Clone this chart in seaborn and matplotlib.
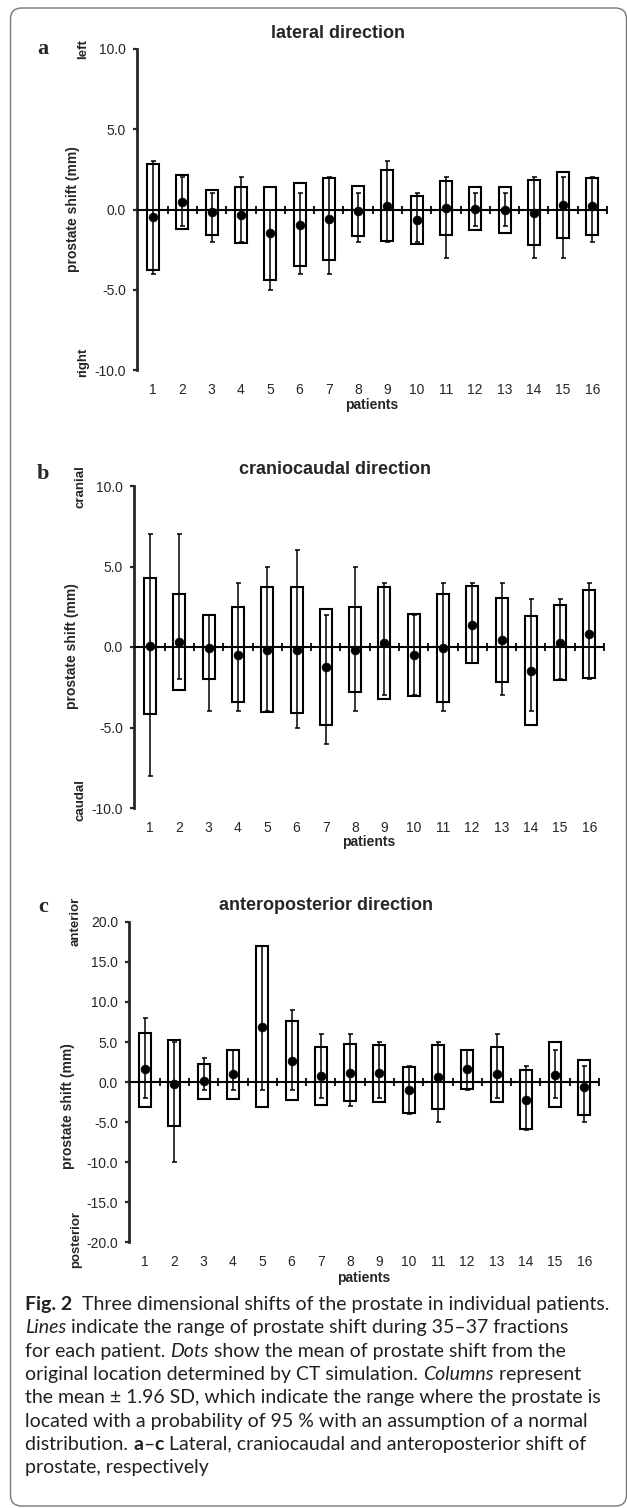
import matplotlib
matplotlib.use("Agg")
import matplotlib.pyplot as plt
from matplotlib.patches import FancyBboxPatch
from matplotlib.transforms import IdentityTransform
import seaborn as sns
import pandas as pd

patients = list(range(1, 17))

# lateral (a)
lat_mean = [-0.48, 0.48, -0.17, -0.33, -1.48, -0.94, -0.6, -0.1, 0.2, -0.63, 0.08, 0.04, -0.04, -0.19, 0.25, 0.2]
lat_low = [-3.8, -1.19, -1.56, -2.1, -4.4, -3.5, -3.15, -1.65, -1.98, -2.15, -1.6, -1.3, -1.48, -2.19, -1.79, -1.56]
lat_high = [2.85, 2.17, 1.23, 1.38, 1.42, 1.63, 1.94, 1.46, 2.46, 0.85, 1.75, 1.42, 1.42, 1.85, 2.31, 1.94]
lat_min = [-4, -1, -2, -2, -5, -4, -4, -2, -2, -2, -3, -1, -1, -3, -3, -2]
lat_max = [3, 2, 1, 2, 0, 1, 2, 1, 3, 1, 2, 1, 1, 2, 2, 2]

# craniocaudal (b)
cc_mean = [0.06, 0.29, -0.04, -0.5, -0.17, -0.19, -1.24, -0.19, 0.23, -0.52, -0.06, 1.39, 0.41, -1.47, 0.27, 0.81]
cc_low = [-4.14, -2.7, -2.0, -3.42, -4.02, -4.08, -4.87, -2.82, -3.23, -3.06, -3.42, -0.97, -2.15, -4.87, -2.03, -1.95]
cc_high = [4.3, 3.3, 1.97, 2.48, 3.7, 3.73, 2.36, 2.5, 3.7, 2.03, 3.3, 3.79, 3.02, 1.9, 2.6, 3.52]
cc_min = [-8, -2, -4, -4, -4, -5, -6, -4, -3, -3, -4, -1, -3, -4, -2, -2]
cc_max = [7, 7, 2, 4, 5, 6, 2, 5, 4, 2, 4, 4, 4, 3, 3, 4]

# anteroposterior (c)
ap_mean = [1.58, -0.2, 0.12, 0.96, 6.86, 2.62, 0.79, 1.12, 1.08, -0.96, 0.58, 1.62, 1.0, -2.2, 0.91, -0.66]
ap_low = [-3.08, -5.53, -2.12, -2.12, -3.12, -2.25, -2.83, -2.41, -2.5, -3.83, -3.4, -0.83, -2.5, -5.82, -3.12, -4.12]
ap_high = [6.15, 5.24, 2.25, 3.95, 17.0, 7.57, 4.32, 4.7, 4.6, 1.87, 4.6, 3.99, 4.4, 1.5, 4.99, 2.74]
ap_min = [-2, -10, -1, -1, -1, -1, -2, -3, -2, -4, -5, -1, -2, -6, -2, -5]
ap_max = [8, 5, 3, 4, 17, 9, 6, 6, 5, 2, 5, 4, 6, 2, 4, 2]

titles = ["lateral direction", "craniocaudal direction", "anteroposterior direction"]
letters = ["a", "b", "c"]
top_words = ["left", "cranial", "anterior"]
bottom_words = ["right", "caudal", "posterior"]
y_limits = [10, 10, 20]

caption = [
    [("Fig. 2", "bold"), ("  Three dimensional shifts of the prostate in individual patients.", "normal")],
    [("Lines", "italic"), (" indicate the range of prostate shift during 35\u201337 fractions", "normal")],
    [("for each patient. ", "normal"), ("Dots", "italic"), (" show the mean of prostate shift from the", "normal")],
    [("original location determined by CT simulation. ", "normal"), ("Columns", "italic"), (" represent", "normal")],
    [("the mean \u00b1 1.96 SD, which indicate the range where the prostate is", "normal")],
    [("located with a probability of 95 % with an assumption of a normal", "normal")],
    [("distribution. ", "normal"), ("a", "bold"), ("\u2013", "normal"), ("c", "bold"),
     (" Lateral, craniocaudal and anteroposterior shift of", "normal")],
    [("prostate, respectively", "normal")],
]

sns.set_style("ticks")
plt.rcParams["font.family"] = ["Liberation Sans", "DejaVu Sans"]

W, H = 627, 1508
fig = plt.figure(figsize=(W / 100, H / 100), dpi=100)
fig.patch.set_facecolor("white")

frame = FancyBboxPatch((10.5, 2), 616, 1498, boxstyle="round,pad=0,rounding_size=11",
                       transform=IdentityTransform(), facecolor="none",
                       edgecolor="#777777", linewidth=1.0)
fig.add_artist(frame)

# layout per panel in pixels: axes left, top, bottom, and text anchors
layout = [
    dict(left=137, top=49, bottom=370, title=(338, 33), letter=(43, 49), ylab=(73, 209),
         topw=(83, 49), botw=(83, 362), xlab_y=405),
    dict(left=134, top=486, bottom=808, title=(335, 470), letter=(43, 474), ylab=(72, 646),
         topw=(80, 487), botw=(80, 800), xlab_y=842),
    dict(left=129, top=922, bottom=1242, title=(326, 905), letter=(43, 907), ylab=(68, 1106),
         topw=(76, 921), botw=(76, 1240), xlab_y=1278),
]
series = [
    (lat_mean, lat_low, lat_high, lat_min, lat_max),
    (cc_mean, cc_low, cc_high, cc_min, cc_max),
    (ap_mean, ap_low, ap_high, ap_min, ap_max),
]
axw = 470


def fx(px):
    return px / W


def fy(py):
    return 1 - py / H


for i, (lay, (mean, low, high, vmin, vmax)) in enumerate(zip(layout, series)):
    ax = fig.add_axes([fx(lay["left"]), fy(lay["bottom"]), axw / W, (lay["bottom"] - lay["top"]) / H])
    df = pd.DataFrame({"patient": patients, "mean": mean, "low": low, "high": high,
                       "min": vmin, "max": vmax})

    ax.bar(df["patient"], df["high"] - df["low"], bottom=df["low"], width=0.41,
           color="white", edgecolor="black", linewidth=1.5, zorder=2)
    ax.errorbar(df["patient"], df["min"], yerr=[[0] * len(df), df["max"] - df["min"]],
                fmt="none", ecolor="black", elinewidth=1.1, capsize=1.8, capthick=1.1, zorder=3)
    ax.axhline(0, color="black", lw=1.5, zorder=4)
    ax.plot([p + 0.5 for p in patients], [0] * len(patients), ls="none", marker="|",
            ms=6, mew=1.3, color="black", zorder=4)
    sns.scatterplot(data=df, x="patient", y="mean", color="black", s=40, linewidth=0.5,
                    edgecolor="black", zorder=5, ax=ax, legend=False)

    lim = y_limits[i]
    ax.set_xlim(0.45, 16.5)
    ax.set_ylim(-lim, lim)
    ax.set_yticks(range(-lim, lim + 1, 5))
    ax.set_yticklabels([f"{v:.1f}" for v in range(-lim, lim + 1, 5)])
    ax.set_xticks(patients)
    ax.set_xticklabels([str(p) for p in patients])
    ax.set_xlabel("")
    ax.set_ylabel("")
    ax.tick_params(axis="y", direction="out", length=3, width=1.6, labelsize=10, pad=5)
    ax.tick_params(axis="x", length=0, labelsize=10, pad=9)
    for s in ["top", "right", "bottom"]:
        ax.spines[s].set_visible(False)
    ax.spines["left"].set_linewidth(2.0)
    ax.set_facecolor("none")

    fig.text(fx(lay["title"][0]), fy(lay["title"][1]), titles[i], ha="center", va="center",
             fontsize=13, fontweight="bold")
    fig.text(fx(lay["letter"][0]), fy(lay["letter"][1]), letters[i], ha="center", va="center",
             fontsize=16, fontweight="bold", family="Liberation Serif")
    fig.text(fx(lay["ylab"][0]), fy(lay["ylab"][1]), "prostate shift (mm)", rotation=90,
             ha="center", va="center", fontsize=10, fontweight="bold")
    fig.text(fx(lay["topw"][0]), fy(lay["topw"][1]), top_words[i], rotation=90,
             ha="center", va="center", fontsize=9.5, fontweight="bold")
    fig.text(fx(lay["botw"][0]), fy(lay["botw"][1]), bottom_words[i], rotation=90,
             ha="center", va="center", fontsize=9.5, fontweight="bold")
    fig.text(fx(lay["left"] + axw / 2), fy(lay["xlab_y"]), "patients", ha="center", va="center",
             fontsize=10, fontweight="bold")

# caption with mixed styles, sized to fit the frame width
renderer = fig.canvas.get_renderer()
cap_font = "Lato"
cap_color = "#231f20"


def seg_props(style, size):
    return dict(fontsize=size, family=cap_font, color=cap_color,
                fontweight="bold" if style == "bold" else "normal",
                fontstyle="italic" if style == "italic" else "normal")


def line_width(segs, size):
    total = 0
    for text, style in segs:
        t = fig.text(0, 0, text, **seg_props(style, size))
        total += t.get_window_extent(renderer).width
        t.remove()
    return total


base = 13
size = base * 582 / line_width(caption[0], base)
x0, y0, step = 25, 1310, 23.3
for j, segs in enumerate(caption):
    x = x0
    for text, style in segs:
        t = fig.text(fx(x), fy(y0 + j * step), text, ha="left", va="baseline", **seg_props(style, size))
        x += t.get_window_extent(renderer).width

fig.savefig("out.png", dpi=100, facecolor="white")
